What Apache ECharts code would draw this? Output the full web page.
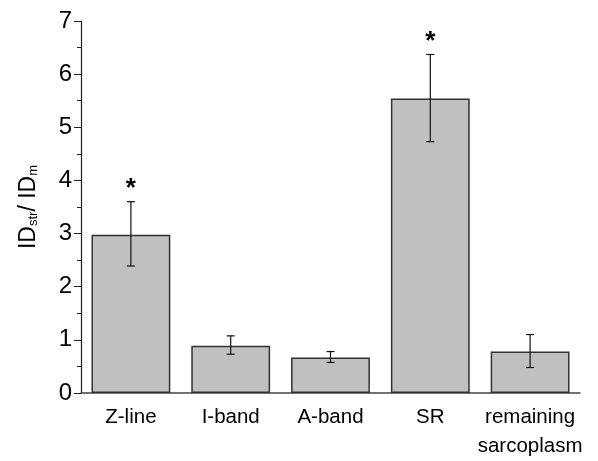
<!DOCTYPE html>
<html>
<head>
<meta charset="utf-8">
<script src="https://cdn.jsdelivr.net/npm/echarts@6/dist/echarts.min.js"></script>
<style>html,body{margin:0;padding:0;background:#fff}#c{width:598px;height:461px}</style>
</head>
<body>
<div id="c"></div>
<script>
const categories = ['Z-line', 'I-band', 'A-band', 'SR', 'remaining\nsarcoplasm'];
const means = [2.98, 0.89, 0.67, 5.54, 0.78];
const errLow = [2.39, 0.73, 0.575, 4.73, 0.48];
const errHigh = [3.60, 1.075, 0.78, 6.37, 1.10];
const significant = [1, 0, 0, 1, 0];
const yTicks = [0, 1, 2, 3, 4, 5, 6, 7];

const chart = echarts.init(document.getElementById('c'), null, {renderer: 'canvas'});
const font = 'Liberation Sans, Arial, sans-serif';
chart.setOption({
  animation: false,
  grid: {left: 81, right: 18, top: 21, bottom: 67},
  xAxis: {
    type: 'category',
    data: categories,
    axisLine: {lineStyle: {color: '#444', width: 1.5}},
    axisTick: {alignWithLabel: true, length: 4, lineStyle: {color: '#444'}},
    axisLabel: {interval: 0, color: '#000', fontSize: 20.5, fontFamily: font, margin: 10, lineHeight: 29}
  },
  yAxis: {
    type: 'value',
    min: yTicks[0], max: yTicks[yTicks.length - 1], interval: 1,
    splitLine: {show: false},
    axisLine: {show: true, lineStyle: {color: '#222', width: 1.2}},
    axisTick: {show: true, length: 7, lineStyle: {color: '#222'}},
    minorTick: {show: true, splitNumber: 2, length: 4, lineStyle: {color: '#222'}},
    axisLabel: {color: '#000', fontSize: 24, fontFamily: font, margin: 9},
    name: '{a|ID}{s|str}{a|/ ID}{s|m}',
    nameLocation: 'middle',
    nameGap: 41,
    nameTextStyle: {
      rich: {
        a: {fontSize: 23, fontFamily: font, color: '#000', verticalAlign: 'bottom', lineHeight: 27},
        s: {fontSize: 13, fontFamily: font, color: '#000', verticalAlign: 'bottom', lineHeight: 21}
      }
    }
  },
  series: [
    {
      type: 'bar',
      data: means,
      barWidth: '79%',
      itemStyle: {color: '#c0c0c0', borderColor: '#333', borderWidth: 1.5}
    },
    {
      type: 'custom',
      data: means.map((m, i) => [i, errLow[i], errHigh[i], significant[i]]),
      renderItem: function (params, api) {
        const i = api.value(0);
        const lo = api.coord([i, api.value(1)]);
        const hi = api.coord([i, api.value(2)]);
        const w = 4;
        const style = {stroke: '#111', lineWidth: 1.2};
        const children = [
          {type: 'line', shape: {x1: hi[0], y1: hi[1], x2: lo[0], y2: lo[1]}, style: style},
          {type: 'line', shape: {x1: hi[0] - w, y1: hi[1], x2: hi[0] + w, y2: hi[1]}, style: style},
          {type: 'line', shape: {x1: lo[0] - w, y1: lo[1], x2: lo[0] + w, y2: lo[1]}, style: style}
        ];
        if (api.value(3)) {
          children.push({type: 'text', x: hi[0], y: hi[1] - 13, style: {text: '*', fill: '#000', font: 'bold 26px ' + font, align: 'center', verticalAlign: 'middle'}});
        }
        return {type: 'group', children: children};
      },
      z: 5
    }
  ]
});
</script>
</body>
</html>
